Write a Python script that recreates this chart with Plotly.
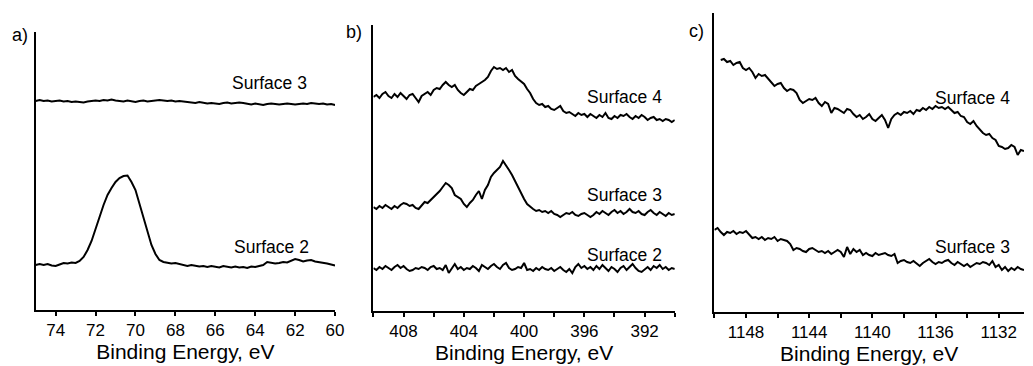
import plotly.graph_objects as go

# ---------------- data (intensity in arbitrary units) ----------------
# Panel a: Binding energy 75.0 -> 60.0 eV, step 0.2
a_start, a_step = 75.0, 0.2
a_surface3 = [209, 210, 209, 209.5, 208.5, 209, 209.5, 208.5, 209, 208,
              208.5, 208, 207.5, 208.5, 209, 209.5, 209, 210, 209.5, 210.5,
              209.5, 209, 208.5, 209.5, 208.5, 208, 209, 209.5, 208.5, 209,
              209.5, 210, 209.5, 209, 209.5, 208.5, 209, 208.5, 208, 207.5,
              207, 208, 207.5, 206.5, 207, 206.5, 206, 207, 207.5, 206.5,
              207, 207.5, 207, 206, 205.5, 206.5, 205.5, 205, 206, 206.5,
              206, 205.5, 206, 206.5, 206, 205.5, 206, 206.5, 206, 207,
              206.5, 206, 206.5, 205.5, 206, 205]
a_surface2 = [45, 46, 45, 46, 44.5, 44, 45.5, 47, 46.5, 47.5,
              47, 49, 53, 60, 69, 80, 93, 105, 115, 122,
              128, 132, 134, 134.5, 128, 120, 106, 92, 77, 65,
              56, 50, 48, 47.5, 46.5, 47, 46, 45.5, 44, 45,
              44.5, 43.5, 44, 43, 44, 43.5, 42.5, 44, 43, 42.5,
              43.5, 42.5, 43, 42, 43.5, 43, 44, 45, 48, 47,
              46.5, 47, 48, 47.5, 49, 51, 50, 48.5, 49.5, 50,
              48.5, 48, 47, 46.5, 45.5, 44.5]

# Panel b: Binding energy 410.0 -> 390.0 eV, step 0.2
b_start, b_step = 410.0, 0.2
b_surface4 = [214, 216, 213, 217, 219, 215, 213, 217, 214, 218,
              215, 212, 216, 217, 213, 209, 215, 217, 219, 216,
              221, 223, 222, 226, 229, 226, 224, 226, 221, 218,
              216, 219, 222, 221, 225, 227, 229, 231, 234, 240,
              244, 242, 243, 241, 243, 239, 241, 235, 232, 229,
              227, 222, 218, 212, 208, 206, 207, 204, 205, 202,
              201, 203, 205, 200, 198, 199, 197, 195, 198, 196,
              197, 194, 197, 195, 193, 196, 194, 198, 193, 192,
              195, 193, 196, 195, 197, 194, 192, 195, 193, 196,
              194, 191, 193, 194, 191, 192, 190, 192, 191, 189,
              191]
b_surface3 = [104, 102, 105, 103, 106, 104, 102, 105, 103, 106,
              108, 107, 105, 106, 103, 102, 106, 109, 108, 111,
              113, 116, 120, 124, 128, 126, 123, 116, 114, 112,
              107, 104, 108, 111, 116, 120, 112, 121, 126, 134,
              138, 141, 144, 150, 146, 141, 136, 130, 124, 117,
              112, 107, 104, 102, 100, 101, 99, 100, 98, 100,
              97, 96, 94, 96, 98, 97, 99, 96, 95, 97,
              98, 96, 94, 96, 99, 97, 100, 98, 96, 99,
              101, 98, 100, 97, 99, 102, 99, 98, 100, 97,
              96, 99, 101, 98, 96, 99, 97, 95, 98, 96,
              97]
b_surface2 = [43, 41, 44, 42, 45, 43, 41, 44, 46, 43,
              45, 42, 40, 41, 43, 42, 44, 43, 41, 44,
              45, 42, 43, 41, 46, 38, 43, 47, 42, 44,
              41, 43, 42, 45, 43, 40, 46, 44, 42, 45,
              47, 44, 42, 46, 48, 43, 41, 42, 44, 43,
              48, 41, 42, 40, 43, 41, 44, 42, 41, 43,
              40, 42, 44, 41, 39, 42, 38, 44, 47, 43,
              45, 42, 44, 41, 45, 42, 46, 43, 40, 44,
              42, 39, 43, 45, 41, 44, 47, 43, 40, 39,
              42, 44, 41, 45, 43, 46, 42, 44, 41, 43,
              42]

# Panel c: Surface 4 from 1149.6 eV, Surface 3 from 1150.0 eV, step 0.2
c_s4_start, c_s3_start, c_step = 1149.6, 1150.0, 0.2
c_surface4 = [252, 253, 250, 251, 247, 249, 250, 244, 242, 244,
              240, 234, 238, 236, 237, 233, 230, 226, 228, 229,
              224, 221, 223, 222, 219, 212, 209, 211, 213, 212,
              214, 209, 206, 210, 208, 199, 204, 203, 201, 199,
              203, 202, 198, 195, 197, 193, 195, 198, 193, 191,
              194, 197, 192, 184, 193, 197, 199, 197, 200, 199,
              201, 198, 202, 201, 204, 202, 205, 203, 206, 204,
              205, 203, 205, 202, 199, 200, 196, 195, 190, 188,
              191, 186, 182, 179, 177, 178, 174, 172, 166, 165,
              163, 164, 167, 165, 157, 162, 161]
c_surface3 = [82, 84, 80, 77, 80, 79, 81, 78, 80, 79,
              81, 78, 74, 75, 73, 75, 72, 74, 73, 75,
              71, 73, 72, 71, 68, 62, 64, 63, 61, 60,
              63, 64, 62, 60, 61, 59, 61, 58, 60, 62,
              60, 55, 65, 58, 63, 60, 62, 57, 59, 57,
              56, 59, 57, 58, 59, 57, 56, 58, 49, 51,
              52, 50, 49, 51, 48, 46, 49, 51, 53, 50,
              48, 50, 49, 51, 52, 49, 47, 50, 48, 46,
              48, 45, 47, 49, 48, 50, 49, 47, 51, 45,
              47, 42, 45, 41, 44, 42, 45, 43, 42]

panel_labels = ["a)", "b)", "c)"]
x_title = "Binding Energy, eV"


def energies(start, step, n):
    return [round(start - step * i, 2) for i in range(n)]


# ---------------- figure ----------------
W, H = 1033, 366
FONT = "Arial, 'Liberation Sans', Helvetica, sans-serif"


def fx(px):
    return px / W


def fy(py):
    return 1 - py / H


fig = go.Figure()
line = dict(color="black", width=2)

fig.add_trace(go.Scatter(x=energies(a_start, a_step, len(a_surface3)), y=a_surface3,
                         mode="lines", line=line, xaxis="x", yaxis="y", name="Surface 3"))
fig.add_trace(go.Scatter(x=energies(a_start, a_step, len(a_surface2)), y=a_surface2,
                         mode="lines", line=line, xaxis="x", yaxis="y", name="Surface 2"))
fig.add_trace(go.Scatter(x=energies(b_start, b_step, len(b_surface4)), y=b_surface4,
                         mode="lines", line=line, xaxis="x2", yaxis="y2", name="Surface 4"))
fig.add_trace(go.Scatter(x=energies(b_start, b_step, len(b_surface3)), y=b_surface3,
                         mode="lines", line=line, xaxis="x2", yaxis="y2", name="Surface 3"))
fig.add_trace(go.Scatter(x=energies(b_start, b_step, len(b_surface2)), y=b_surface2,
                         mode="lines", line=line, xaxis="x2", yaxis="y2", name="Surface 2"))
fig.add_trace(go.Scatter(x=energies(c_s4_start, c_step, len(c_surface4)), y=c_surface4,
                         mode="lines", line=line, xaxis="x3", yaxis="y3", name="Surface 4"))
fig.add_trace(go.Scatter(x=energies(c_s3_start, c_step, len(c_surface3)), y=c_surface3,
                         mode="lines", line=line, xaxis="x3", yaxis="y3", name="Surface 3"))


def xaxis(domain, rng, dtick, minor, anchor):
    ax = dict(domain=domain, range=rng, anchor=anchor, showline=True, linecolor="black",
              linewidth=2, ticks="outside", ticklen=4, tickwidth=1.5, tickcolor="black",
              dtick=dtick, tick0=0, showgrid=False, zeroline=False,
              tickfont=dict(family=FONT, size=17, color="black"),
              title=dict(text=x_title, font=dict(family=FONT, size=21, color="black"), standoff=5))
    if minor:
        ax["minor"] = dict(dtick=minor, tick0=0, ticks="outside", ticklen=4, tickwidth=1.5,
                           tickcolor="black", showgrid=False)
    return ax


def yaxis(domain, rng, anchor):
    return dict(domain=domain, range=rng, anchor=anchor, showline=True, linecolor="black",
                linewidth=2, ticks="", showticklabels=False, showgrid=False, zeroline=False)


fig.update_layout(
    width=W, height=H,
    margin=dict(l=0, r=0, t=0, b=0),
    paper_bgcolor="white", plot_bgcolor="white",
    showlegend=False,
    font=dict(family=FONT, color="black"),
    xaxis=xaxis([fx(36), fx(338)], [75, 60], 2, None, "y"),
    yaxis=yaxis([fy(310), fy(32)], [0, 278], "x"),
    xaxis2=xaxis([fx(376.7), fx(680.7)], [410, 390], 4, 2, "y2"),
    yaxis2=yaxis([fy(311), fy(25)], [0, 286], "x2"),
    xaxis3=xaxis([fx(720.7), 1.0], [1150, 1130.4], 4, 2, "y3"),
    yaxis3=yaxis([fy(312), fy(13)], [0, 299], "x3"),
)

ann_font = dict(family=FONT, size=17.5, color="black")
labels = [
    ("Surface 3", 272, 83), ("Surface 2", 274, 247),
    ("Surface 4", 630, 97), ("Surface 3", 630, 195), ("Surface 2", 630, 255),
    ("Surface 4", 981, 98), ("Surface 3", 981, 247),
]
for text, px, py in labels:
    fig.add_annotation(text=text, x=fx(px), y=fy(py), xref="paper", yref="paper",
                       showarrow=False, xanchor="center", yanchor="middle", font=ann_font)

for text, px, py in zip(panel_labels, [20, 357, 703], [35, 32, 31]):
    fig.add_annotation(text=text, x=fx(px), y=fy(py), xref="paper", yref="paper",
                       showarrow=False, xanchor="center", yanchor="middle",
                       font=dict(family=FONT, size=18, color="black"))

fig.write_html("out.html")
